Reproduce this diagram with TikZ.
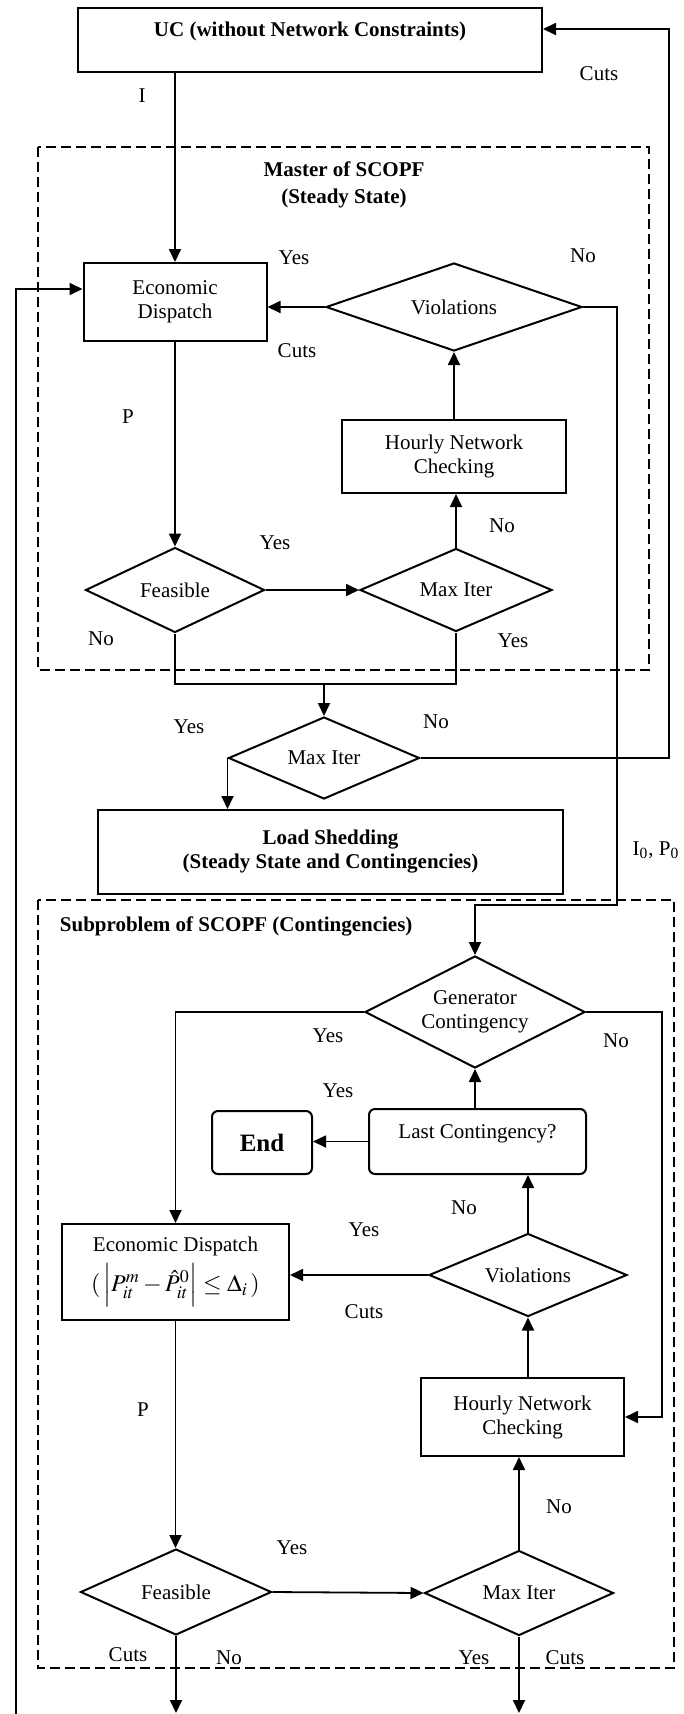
\documentclass[tikz,border=0pt]{standalone}
\usepackage{mathptmx}
\usepackage{fontspec}
\setmainfont{Liberation Serif}
\usetikzlibrary{arrows.meta,shapes.geometric}
\tikzset{
  txt/.style={font=\fontsize{10.5}{12}\selectfont},
  boldtxt/.style={font=\fontsize{10.5}{12}\selectfont\bfseries},
  box/.style={draw,line width=1pt,inner sep=0pt,align=center},
  decision/.style={draw,diamond,aspect=2,line width=1pt,inner sep=0pt,align=center},
  group/.style={draw,line width=1pt,dash pattern=on 5pt off 2.5pt},
  lbl/.style={inner sep=0pt}
}
\begin{document}
\begin{tikzpicture}[x=0.5pt,y=-0.5pt,txt,line width=0.9pt,>={Triangle[length=6.5pt,width=6pt]}]
  \useasboundingbox (0,0) rectangle (684,1714);
  % unit commitment
  \node[box,boldtxt,text depth=10pt,minimum width=232pt,minimum height=32pt] (uc) at (310,39.5) {UC (without Network Constraints)};
  % master of SCOPF
  \draw[group] (38,147) rectangle (649,670);
  \node[align=center,font=\fontsize{10.5}{13.5}\selectfont\bfseries] (mtitle) at (344,185) {Master of SCOPF\\(Steady State)};
  \node[box,minimum width=91.5pt,minimum height=39pt] (ed1) at (175,302) {Economic\\Dispatch};
  \node[decision,minimum width=128pt,minimum height=44pt] (viol1) at (454,307) {Violations};
  \node[box,minimum width=112pt,minimum height=36.5pt] (hnc1) at (454,456.5) {Hourly Network\\Checking};
  \node[decision,minimum width=89.5pt,minimum height=42.5pt] (feas1) at (175,590) {Feasible};
  \node[decision,minimum width=96pt,minimum height=41.5pt] (iter1) at (456,590) {Max Iter};
  \coordinate (join) at (324,684);
  \node[decision,minimum width=95.5pt,minimum height=41pt] (iter2) at (324,758) {Max Iter};
  \node[box,boldtxt,minimum width=232.5pt,minimum height=42pt] (ls) at (330.5,852) {Load Shedding\\(Steady State and Contingencies)};
  % subproblem of SCOPF
  \draw[group] (38,900) rectangle (674,1668);
  \node[lbl,boldtxt,anchor=west] (stitle) at (59,926) {Subproblem of SCOPF (Contingencies)};
  \node[decision,minimum width=110pt,minimum height=56pt] (gc) at (475,1012) {Generator\\Contingency};
  \node[box,rounded corners=3pt,font=\fontsize{12.5}{14}\selectfont\bfseries,minimum width=50pt,minimum height=31.5pt] (endbox) at (262,1142.5) {End};
  \node[box,rounded corners=3pt,text depth=10pt,minimum width=108.5pt,minimum height=32.5pt] (lc) at (477.5,1141.5) {Last Contingency?};
  \node[box,minimum width=113.5pt,minimum height=48pt] (ed2) at (175.5,1272) {Economic Dispatch\\[3pt]{\fontsize{12}{14}\selectfont$(\,\Bigl|P_{it}^{m}-\hat{P}_{it}^{0}\Bigr|\leq\Delta_{i}\,)$}};
  \node[decision,minimum width=99pt,minimum height=41.5pt] (viol2) at (528,1275) {Violations};
  \node[box,minimum width=101.5pt,minimum height=39pt] (hnc2) at (522.5,1417) {Hourly Network\\Checking};
  \node[decision,minimum width=95.5pt,minimum height=43pt] (feas2) at (176,1592) {Feasible};
  \node[decision,minimum width=94.5pt,minimum height=42.5pt] (iter3) at (519,1593) {Max Iter};
  % labels
  \foreach \t/\x/\y [count=\i] in {I/142/96,Cuts/599/74,Yes/294/258,No/583/256,Cuts/297/351,P/128/417,Yes/275/543,No/502/526,No/101/639,Yes/513/641,Yes/189/727,No/436/722}
    \node[lbl] (m\i) at (\x,\y) {\t};
  \foreach \t/\x/\y [count=\i] in {Yes/328/1036,No/616/1041,Yes/338/1091,No/464/1208,Yes/364/1230,Cuts/364/1312,P/143/1410,Yes/292/1548,No/559/1507,Cuts/128/1655,No/229/1658,Yes/474/1658,Cuts/565/1658}
    \node[lbl] (s\i) at (\x,\y) {\t};
  \node[lbl] (ip0) at (656,850) {I\textsubscript{0}, P\textsubscript{0}};
  % connectors, master
  \draw[->] (uc.south -| ed1.north) -- (ed1.north);
  \draw[->] (viol1.west) -- (viol1.west -| ed1.east);
  \draw[->] (hnc1.north) -- (viol1.south);
  \draw[->] (ed1.south) -- (feas1.north);
  \draw[->] (feas1.east) -- (iter1.west);
  \draw[->] (iter1.north) -- (iter1.north |- hnc1.south);
  \draw (feas1.south) |- (join) -| (iter1.south);
  \draw[->] (join) -- (iter2.north);
  \draw[->] (iter2.west) -- (iter2.west |- ls.north);
  \coordinate (cutr) at (669,29);
  \draw[->] (iter2.east) -| (cutr) -- (cutr -| uc.east);
  \coordinate (vr) at (617,905);
  \draw[->] (viol1.east) -| (vr) -| (gc.north);
  % connectors, subproblem
  \draw[->] (gc.west) -| (ed2.north);
  \coordinate (gr) at (662,1417);
  \draw[->] (gc.east) -| (gr) -- (hnc2.east);
  \draw[->] (lc.north -| gc.south) -- (gc.south);
  \draw[->] (lc.west) -- (lc.west -| endbox.east);
  \draw[->] (viol2.north) -- (viol2.north |- lc.south);
  \draw[->] (viol2.west) -- (viol2.west -| ed2.east);
  \draw[->] (viol2.south |- hnc2.north) -- (viol2.south);
  \draw[->] (ed2.south) -- (ed2.south |- feas2.north);
  \draw[->] (feas2.east) -- (iter3.west);
  \draw[->] (iter3.north) -- (iter3.north |- hnc2.south);
  \coordinate (fout) at (176,1713);
  \coordinate (iout) at (519,1713);
  \draw[->] (feas2.south) -- (fout);
  \draw[->] (iter3.south) -- (iout);
  % feedback to economic dispatch
  \coordinate (fbb) at (16,1714);
  \coordinate (fbt) at (16,289);
  \draw[->] (fbb) -- (fbt) -- (fbt -| ed1.west);
\end{tikzpicture}
\end{document}
